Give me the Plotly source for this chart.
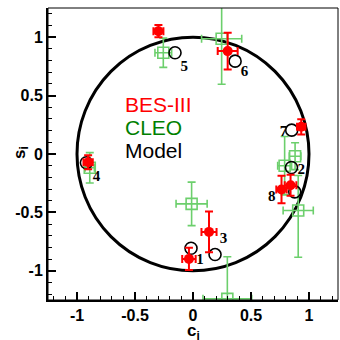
import plotly.graph_objects as go

# BES-III (red filled circles)
bes_c = [-0.035, 0.841, 0.138, -0.904, -0.298, 0.299, 0.933, 0.763]
bes_s = [-0.898, -0.267, -0.667, -0.070, 1.052, 0.881, 0.233, -0.304]
bes_cerr = [0.058, 0.05, 0.065, 0.04, 0.043, 0.086, 0.036, 0.045]
bes_serr = [0.096, 0.09, 0.174, 0.06, 0.053, 0.157, 0.065, 0.117]

# CLEO (green open squares)
cleo_c = [-0.012, 0.79, 0.296, -0.89, -0.256, 0.247, 0.88, 0.907]
cleo_s = [-0.427, -0.10, -1.24, -0.118, 0.867, 0.987, -0.019, -0.484]
cleo_cerr = [0.134, 0.06, 0.21, 0.04, 0.072, 0.173, 0.05, 0.13]
cleo_serr_plus = [0.186, 0.25, 0.36, 0.13, 0.125, 0.39, 0.115, 0.30]
cleo_serr_minus = [0.186, 0.25, 0.10, 0.13, 0.125, 0.39, 0.115, 0.40]

# Model (black open circles)
model_c = [-0.017, 0.849, 0.19, -0.919, -0.155, 0.363, 0.851, 0.877]
model_s = [-0.807, -0.116, -0.861, -0.075, 0.867, 0.795, 0.204, -0.324]

# Bin labels
lab_text = ["1", "2", "3", "4", "5", "6", "7", "8"]
lab_c = [0.06, 0.933, 0.262, -0.832, -0.075, 0.443, 0.78, 0.679]
lab_s = [-0.91, -0.137, -0.727, -0.20, 0.747, 0.696, 0.187, -0.367]

tick_vals = [-1, -0.5, 0, 0.5, 1]
tick_text = ["-1", "-0.5", "0", "0.5", "1"]

legend_names = ["BES-III", "CLEO", "Model"]
legend_colors = ["#ff0000", "#008000", "#000000"]

green = "#6ccf6c"

fig = go.Figure()

fig.add_trace(go.Scatter(
    x=cleo_c, y=cleo_s, mode="markers",
    marker=dict(symbol="square-open", size=11, color=green, line=dict(width=1.6, color=green)),
    error_x=dict(type="data", array=cleo_cerr, color=green, thickness=1.6, width=4),
    error_y=dict(type="data", array=cleo_serr_plus, arrayminus=cleo_serr_minus,
                 symmetric=False, color=green, thickness=1.6, width=4),
    showlegend=False))

fig.add_trace(go.Scatter(
    x=model_c, y=model_s, mode="markers",
    marker=dict(symbol="circle-open", size=12, color="black", line=dict(width=1.6, color="black")),
    showlegend=False))

fig.add_trace(go.Scatter(
    x=bes_c, y=bes_s, mode="markers",
    marker=dict(symbol="circle", size=10, color="#ff0000"),
    error_x=dict(type="data", array=bes_cerr, color="#ff0000", thickness=2, width=4),
    error_y=dict(type="data", array=bes_serr, color="#ff0000", thickness=2, width=4),
    showlegend=False))

fig.add_trace(go.Scatter(
    x=lab_c, y=lab_s, mode="text", text=["<b>%s</b>" % t for t in lab_text],
    textfont=dict(family="Liberation Serif", size=15, color="black"),
    showlegend=False))

# unit circle
fig.add_shape(type="circle", xref="x", yref="y", x0=-1, y0=-1, x1=1, y1=1,
              line=dict(color="black", width=3), layer="below")
# frame
fig.add_shape(type="rect", xref="paper", yref="paper", x0=0, y0=0, x1=1, y1=1,
              line=dict(color="black", width=1))

for i, (name, col) in enumerate(zip(legend_names, legend_colors)):
    fig.add_annotation(xref="paper", yref="paper", x=0.26, y=0.668 - i * 0.078,
                       text=name, showarrow=False, xanchor="left", yanchor="middle",
                       font=dict(family="Liberation Sans", size=21, color=col))

# axis titles
fig.add_annotation(xref="paper", yref="paper", x=0.503, y=-0.11, text="<b>c<sub>i</sub></b>",
                   showarrow=False, xanchor="center", yanchor="middle",
                   font=dict(family="Liberation Sans", size=17, color="black"))
fig.add_annotation(xref="paper", yref="paper", x=-0.095, y=0.505, text="<b>s<sub>i</sub></b>",
                   showarrow=False, xanchor="center", yanchor="middle", textangle=-90,
                   font=dict(family="Liberation Sans", size=17, color="black"))

axis_common = dict(
    range=[-1.25, 1.25], showgrid=False, zeroline=False, automargin=False,
    showline=True, linecolor="black", linewidth=2,
    ticks="inside", ticklen=8, tickwidth=1.5, tickcolor="black",
    tickvals=tick_vals, ticktext=["<b>%s</b>" % t for t in tick_text],
    tickfont=dict(family="Liberation Sans", size=16, color="black"),
    minor=dict(dtick=0.1, ticks="inside", ticklen=4, tickwidth=1.2, tickcolor="black"),
)

fig.update_xaxes(**axis_common)
fig.update_yaxes(**axis_common)

fig.update_layout(width=340, height=340,
                  margin=dict(l=48, r=2, t=8, b=40),
                  plot_bgcolor="white", paper_bgcolor="white")

fig.write_html("out.html", config={"displayModeBar": False},
               post_script="document.body.style.margin='0px';document.body.style.overflow='hidden';")
